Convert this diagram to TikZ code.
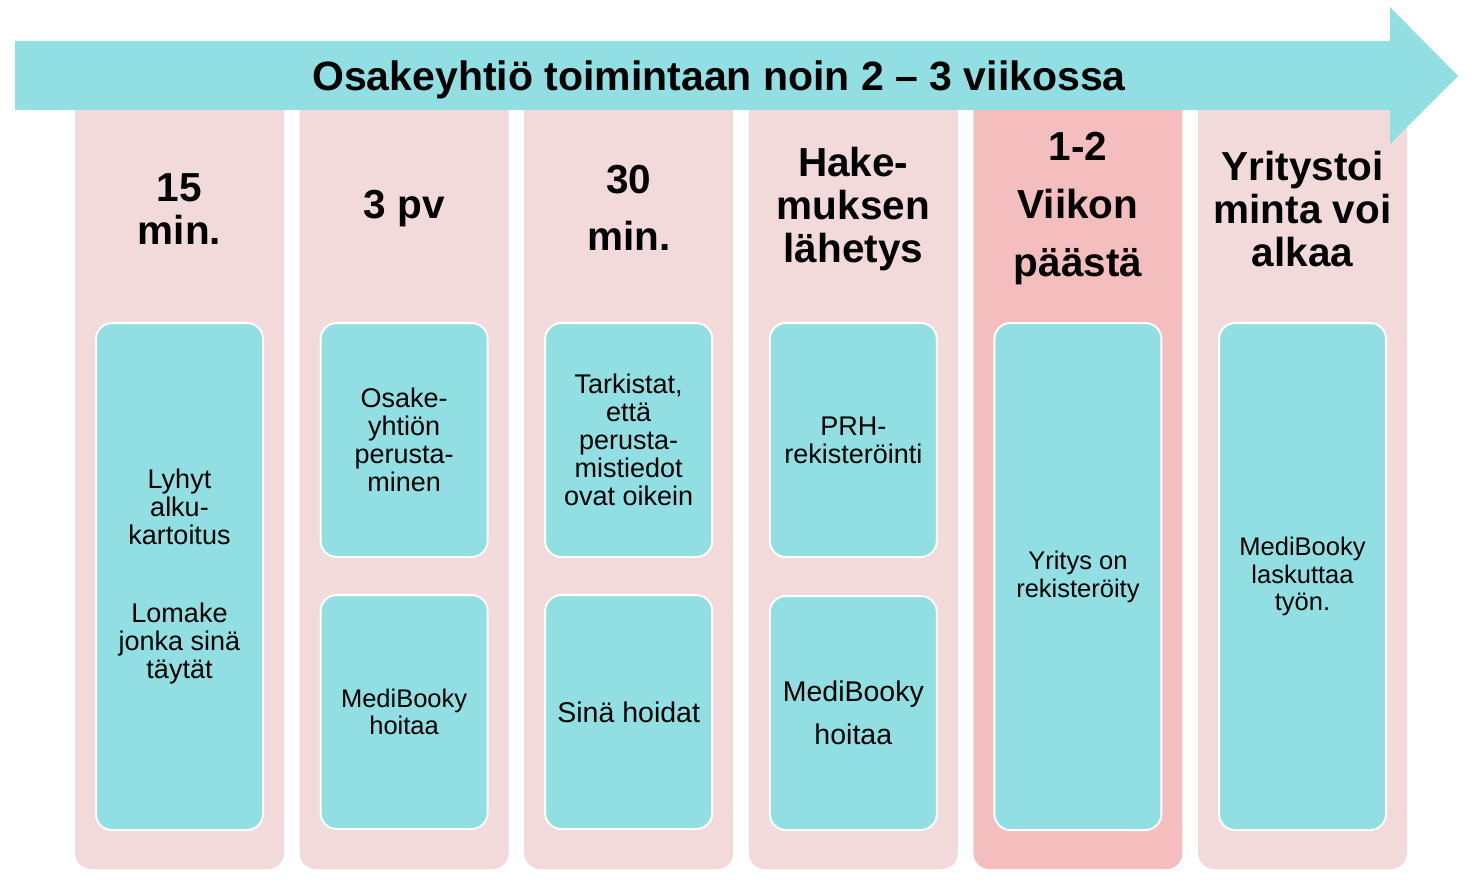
\documentclass[tikz,border=0pt]{standalone}
\usepackage{fontspec}
\setmainfont{Liberation Sans}
\definecolor{teal1}{HTML}{91DFE2}
\definecolor{pink1}{HTML}{F2DADA}
\definecolor{pink2}{HTML}{F4BEBE}
\begin{document}
\begin{tikzpicture}[x=1pt,y=-1pt,
 col/.style={fill=pink1, rounded corners=16pt, minimum width=209pt, minimum height=809pt, inner sep=0pt},
 ibox/.style={fill=teal1, draw=white, line width=2pt, rounded corners=16pt, minimum width=167pt, inner sep=2pt, align=center, font=\fontsize{27}{28}\selectfont},
 tall/.style={minimum height=507pt},
 short/.style={minimum height=234pt},
 head/.style={align=center, font=\bfseries\fontsize{40.5}{43}\selectfont, inner sep=0pt}]
\useasboundingbox (0,0) rectangle (1474,888);
% columns
\node[col] (c1) at (179.5,464.5) {};
\node[col] (c2) at (404.1,464.5) {};
\node[col] (c3) at (628.7,464.5) {};
\node[col] (c4) at (853.3,464.5) {};
\node[col,fill=pink2] (c5) at (1077.9,464.5) {};
\node[col] (c6) at (1302.5,464.5) {};
% headers
\node[head] (h1) at (179.5,209) {15\\min.};
\node[head] (h2) at (404.1,209) {3 pv};
\node[head] (h3) at (628.7,208) {30\\[14pt]min.};
\node[head] (h4) at (853.3,209) {Hake-\\muksen\\lähetys};
\node[head] (h5) at (1077.9,209) {1-2\\[15pt]Viikon\\[15pt]päästä};
\node[head] (h6) at (1302.5,209) {Yritystoi\\minta voi\\alkaa};
% inner boxes
\node[ibox,tall] (b1) at (179.5,576.5) {Lyhyt\\alku-\\kartoitus\\[50pt]Lomake\\jonka sinä\\täytät};
\node[ibox,short] (b2a) at (404.1,440) {Osake-\\yhtiön\\perusta-\\minen};
\node[ibox,short,font=\fontsize{25.5}{27.5}\selectfont] (b2b) at (404.1,712) {MediBooky\\hoitaa};
\node[ibox,short] (b3a) at (628.7,440) {Tarkistat,\\että\\perusta-\\mistiedot\\ovat oikein};
\node[ibox,short,font=\fontsize{28.5}{28}\selectfont] (b3b) at (628.7,712) {Sinä hoidat};
\node[ibox,short] (b4a) at (853.3,440) {PRH-\\rekisteröinti};
\node[ibox,short,font=\fontsize{28.5}{28}\selectfont] (b4b) at (853.3,713) {MediBooky\\[15pt]hoitaa};
\node[ibox,tall,font=\fontsize{25.5}{28}\selectfont] (b5) at (1077.9,576.5) {Yritys on\\rekisteröity};
\node[ibox,tall,font=\fontsize{25.5}{27.5}\selectfont] (b6) at (1302.5,576.5) {MediBooky\\laskuttaa\\työn.};
% arrow
\fill[teal1] (15,41) -- (1390,41) -- (1390,7) -- (1458,76) -- (1390,144) -- (1390,110) -- (15,110) -- cycle;
\node[font=\bfseries\fontsize{41}{43}\selectfont, inner sep=0pt] (title) at (719,80) {Osakeyhtiö toimintaan noin 2 – 3 viikossa};
\end{tikzpicture}
\end{document}
